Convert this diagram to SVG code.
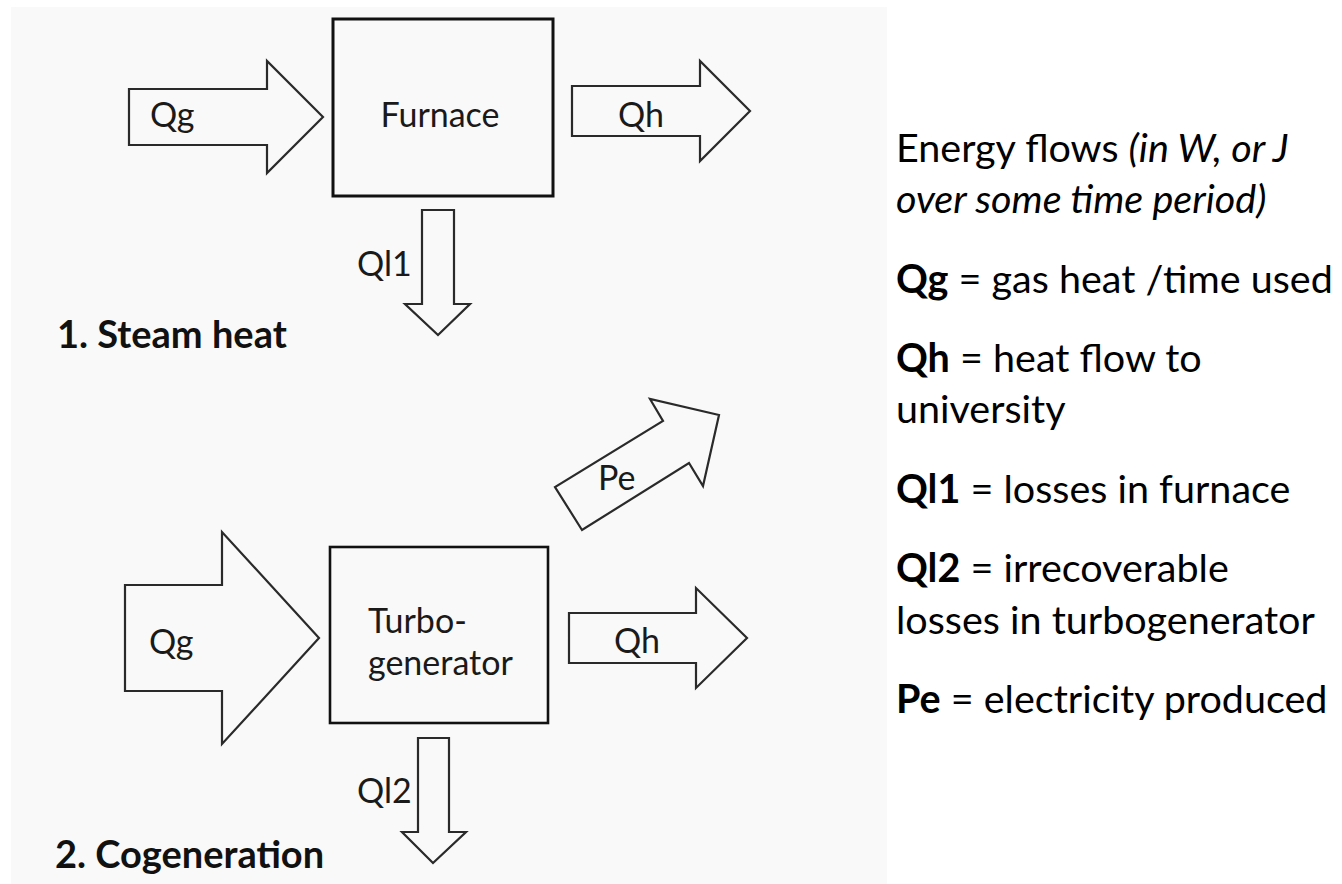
<svg xmlns="http://www.w3.org/2000/svg" width="1342" height="884" viewBox="0 0 1342 884">
<style>
.arrow{fill:#f9f9f9;stroke:#2a2a2a;stroke-width:2.2;stroke-linejoin:miter}
.box{fill:#f9f9f9;stroke:#111;stroke-width:3}
.lbl{font-family:Lato,"Open Sans","Liberation Sans",sans-serif;font-size:34px;fill:#1a1a1a}
.head{font-family:Lato,"Open Sans","Liberation Sans",sans-serif;font-size:38px;font-weight:bold;fill:#111}
.legend{font-family:Lato,"Open Sans","Liberation Sans",sans-serif;font-size:39.5px;fill:#000}
.b{font-weight:bold}
.i{font-style:italic}
</style>
<rect x="0" y="0" width="1342" height="884" fill="#ffffff"/>
<rect x="11" y="7" width="876" height="877" fill="#f9f9f9"/>

<g id="furnace">
<rect class="box" x="333" y="19" width="220" height="177"/>
<text class="lbl" x="440" y="127" text-anchor="middle">Furnace</text>
</g>
<g id="turbogenerator">
<rect class="box" x="330" y="547" width="218" height="176" style="stroke-width:2.6"/>
<text class="lbl" x="368" y="633">Turbo-</text>
<text class="lbl" x="368" y="675">generator</text>
</g>

<g id="connectors">
<g id="qg1">
<polygon class="arrow" points="129,89 267,89 267,61 323,117 267,173 267,145 129,145"/>
<text class="lbl" x="150" y="127">Qg</text>
</g>
<g id="qh1">
<polygon class="arrow" points="572,86 700,86 700,61 750,111 700,161 700,136 572,136"/>
<text class="lbl" x="618" y="127">Qh</text>
</g>
<g id="ql1">
<polygon class="arrow" points="422,210 454,210 454,304 470,304 438,335 405,304 422,304"/>
<text class="lbl" x="357" y="276">Ql1</text>
</g>
<g id="qg2">
<polygon class="arrow" points="125,585 222,585 222,532 319,638 222,744 222,691 125,691"/>
<text class="lbl" x="149" y="654">Qg</text>
</g>
<g id="qh2">
<polygon class="arrow" points="569,613 696,613 696,588 747,638 696,688 696,663 569,663"/>
<text class="lbl" x="614" y="653">Qh</text>
</g>
<g id="ql2">
<polygon class="arrow" points="418,738 449,738 449,832 466,832 433,863 402,832 418,832"/>
<text class="lbl" x="357" y="803">Ql2</text>
</g>
<g id="pe">
<polygon class="arrow" points="582,530 555,487 663,421 650,399 719,415 703,486 689,463"/>
<text class="lbl" x="598" y="490">Pe</text>
</g>
</g>

<g id="titles">
<text class="head" x="57" y="348">1. Steam heat</text>
<text class="head" x="55" y="868">2. Cogeneration</text>
</g>

<g id="legend">
<text class="legend" x="896" y="162">Energy flows <tspan class="i">(in W, or J</tspan></text>
<text class="legend i" x="896" y="213">over some time period)</text>
<text class="legend" x="896" y="293"><tspan class="b">Qg</tspan> = gas heat /time used</text>
<text class="legend" x="896" y="372"><tspan class="b">Qh</tspan> = heat flow to</text>
<text class="legend" x="896" y="423">university</text>
<text class="legend" x="896" y="503"><tspan class="b">Ql1</tspan> = losses in furnace</text>
<text class="legend" x="896" y="582"><tspan class="b">Ql2</tspan> = irrecoverable</text>
<text class="legend" x="896" y="634">losses in turbogenerator</text>
<text class="legend" x="896" y="713"><tspan class="b">Pe</tspan> = electricity produced</text>
</g>
</svg>
